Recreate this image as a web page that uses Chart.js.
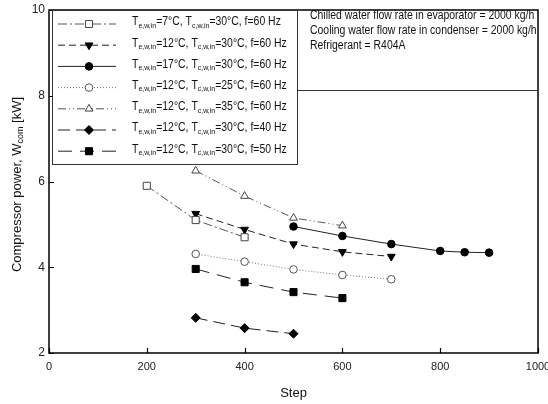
<!DOCTYPE html>
<html>
<head>
<meta charset="utf-8">
<script src="https://cdn.jsdelivr.net/npm/chart.js@4/dist/chart.umd.min.js"></script>
<style>
  html, body { margin: 0; padding: 0; background: #fff; }
  #wrap { width: 548px; height: 404px; }
</style>
</head>
<body>
<div id="wrap"><canvas id="chart" width="548" height="404"></canvas></div>
<script>
// series data
var steps1 = [200, 300, 400];
var power1 = [5.9, 5.1, 4.7];
var steps2 = [300, 400, 500, 600, 700];
var power2 = [5.25, 4.88, 4.54, 4.36, 4.25];
var steps3 = [500, 600, 700, 800, 850, 900];
var power3 = [4.95, 4.73, 4.54, 4.38, 4.35, 4.34];
var steps4 = [300, 400, 500, 600, 700];
var power4 = [4.31, 4.13, 3.95, 3.82, 3.72];
var steps5 = [300, 400, 500, 600];
var power5 = [6.25, 5.66, 5.15, 4.97];
var steps6 = [300, 400, 500];
var power6 = [2.82, 2.58, 2.45];
var steps7 = [300, 400, 500, 600];
var power7 = [3.96, 3.65, 3.42, 3.28];

var evapTemps = [7, 12, 17, 12, 12, 12, 12];
var condTemps = [30, 30, 30, 25, 35, 30, 30];
var freqs = [60, 60, 60, 60, 60, 40, 50];

var xTicks = [0, 200, 400, 600, 800, 1000];
var yTicks = [2, 4, 6, 8, 10];

var infoLines = [
  'Chilled water flow rate in evaporator = 2000 kg/h',
  'Cooling water flow rate in condenser = 2000 kg/h',
  'Refrigerant = R404A'
];

var FONT = '"Liberation Sans", Arial, sans-serif';
var NARROW = 0.87;   // the figure's text is a bit condensed

function pts(xs, ys) {
  var out = [];
  for (var i = 0; i < xs.length; i++) out.push({x: xs[i], y: ys[i]});
  return out;
}

// style per series: line colour, dash, marker
var styles = [
  {line: '#555', dash: [9, 3, 2, 3], shape: 'rect', fill: '#fff', stroke: '#444', r: 5, rot: 0},
  {line: '#222', dash: [7, 4], shape: 'triangle', fill: '#000', stroke: '#000', r: 4.5, rot: 180},
  {line: '#222', dash: [], shape: 'circle', fill: '#000', stroke: '#000', r: 3.8, rot: 0},
  {line: '#777', dash: [1, 2], shape: 'circle', fill: '#fff', stroke: '#555', r: 3.8, rot: 0},
  {line: '#555', dash: [8, 3, 1, 3, 1, 3], shape: 'triangle', fill: '#fff', stroke: '#444', r: 4.5, rot: 0},
  {line: '#222', dash: [12, 6], shape: 'rectRot', fill: '#000', stroke: '#000', r: 4.5, rot: 0},
  {line: '#222', dash: [14, 8], shape: 'rect', fill: '#000', stroke: '#000', r: 5, rot: 0}
];

var allSteps = [steps1, steps2, steps3, steps4, steps5, steps6, steps7];
var allPower = [power1, power2, power3, power4, power5, power6, power7];

var datasets = [];
for (var i = 0; i < 7; i++) {
  var s = styles[i];
  datasets.push({
    data: pts(allSteps[i], allPower[i]),
    borderColor: s.line,
    borderWidth: 1,
    borderDash: s.dash,
    pointStyle: s.shape,
    pointRotation: s.rot,
    pointRadius: s.r,
    pointBackgroundColor: s.fill,
    pointBorderColor: s.stroke,
    pointBorderWidth: 1,
    showLine: true,
    tension: 0
  });
}

function drawMarker(ctx, s, x, y) {
  ctx.save();
  ctx.setLineDash([]);
  ctx.fillStyle = s.fill;
  ctx.strokeStyle = s.stroke;
  ctx.lineWidth = 1;
  ctx.beginPath();
  var r = s.r;
  if (s.shape === 'circle') {
    ctx.arc(x, y, r, 0, Math.PI * 2);
  } else if (s.shape === 'rect') {
    var h = r * Math.SQRT1_2;
    ctx.rect(x - h, y - h, 2 * h, 2 * h);
  } else if (s.shape === 'rectRot') {
    ctx.moveTo(x, y - r); ctx.lineTo(x + r, y); ctx.lineTo(x, y + r); ctx.lineTo(x - r, y); ctx.closePath();
  } else if (s.shape === 'triangle') {
    var d = s.rot === 180 ? -1 : 1;
    ctx.moveTo(x, y - d * r);
    ctx.lineTo(x + r * 0.866, y + d * r * 0.5);
    ctx.lineTo(x - r * 0.866, y + d * r * 0.5);
    ctx.closePath();
  }
  ctx.fill();
  ctx.stroke();
  ctx.restore();
}

// text with subscript runs: parts = [[text, isSub], ...]
function drawRich(ctx, parts, x, y, size) {
  var cx = x;
  for (var i = 0; i < parts.length; i++) {
    var sub = parts[i][1];
    ctx.font = (sub ? Math.round(size * 0.66) : size) + 'px ' + FONT;
    ctx.fillText(parts[i][0], cx, sub ? y + size * 0.3 : y);
    cx += ctx.measureText(parts[i][0]).width;
  }
  return cx - x;
}
function richWidth(ctx, parts, size) {
  var w = 0;
  for (var i = 0; i < parts.length; i++) {
    ctx.font = (parts[i][1] ? Math.round(size * 0.66) : size) + 'px ' + FONT;
    w += ctx.measureText(parts[i][0]).width;
  }
  return w;
}

var decorPlugin = {
  id: 'decor',
  afterDraw: function(chart) {
    var ctx = chart.ctx;
    var a = chart.chartArea;
    var xs = chart.scales.x, ys = chart.scales.y;
    ctx.save();
    ctx.setLineDash([]);
    ctx.strokeStyle = '#000';
    // frame
    ctx.lineWidth = 1.5;
    ctx.strokeRect(a.left, a.top, a.right - a.left, a.bottom - a.top);
    // inward ticks
    ctx.lineWidth = 1.2;
    ctx.beginPath();
    xTicks.forEach(function(v) {
      var px = Math.round(xs.getPixelForValue(v)) + 0.5;
      ctx.moveTo(px, a.bottom); ctx.lineTo(px, a.bottom - 5);
    });
    yTicks.forEach(function(v) {
      var py = Math.round(ys.getPixelForValue(v)) + 0.5;
      ctx.moveTo(a.left, py); ctx.lineTo(a.left + 5, py);
    });
    ctx.stroke();

    // legend box
    var lx = a.left + 3, ly = a.top, lw = 297 - lx, lh = 164 - a.top;
    ctx.fillStyle = '#fff';
    ctx.fillRect(lx, ly, lw, lh);
    ctx.strokeStyle = '#333';
    ctx.lineWidth = 1;
    ctx.strokeRect(lx + 0.5, ly + 0.5, lw, lh);
    ctx.textBaseline = 'middle';
    for (var i = 0; i < 7; i++) {
      var s = styles[i];
      var cy = ly + 14 + i * 21.2;
      ctx.strokeStyle = s.line;
      ctx.lineWidth = 1;
      ctx.setLineDash(s.dash);
      ctx.beginPath();
      ctx.moveTo(lx + 6, cy); ctx.lineTo(lx + 64, cy);
      ctx.stroke();
      drawMarker(ctx, s, lx + 37, cy);
      ctx.fillStyle = '#111';
      ctx.save();
      ctx.translate(lx + 80, cy - 2);
      ctx.scale(NARROW, 1);
      drawRich(ctx, [
        ['T', false], ['e,w,in', true], ['=' + evapTemps[i] + '\u00b0C, T', false],
        ['c,w,in', true], ['=' + condTemps[i] + '\u00b0C, f=' + freqs[i] + ' Hz', false]
      ], 0, 0, 12);
      ctx.restore();
    }

    // info box
    ctx.setLineDash([]);
    ctx.strokeStyle = '#333';
    ctx.lineWidth = 1;
    ctx.beginPath();
    ctx.moveTo(297.5, a.top); ctx.lineTo(297.5, 90.5); ctx.lineTo(a.right, 90.5);
    ctx.stroke();
    ctx.fillStyle = '#111';
    ctx.font = '12px ' + FONT;
    ctx.textBaseline = 'middle';
    infoLines.forEach(function(t, k) {
      ctx.save();
      ctx.translate(310, 16 + k * 15);
      ctx.scale(NARROW, 1);
      ctx.fillText(t, 0, 0);
      ctx.restore();
    });

    // axis titles
    ctx.fillStyle = '#111';
    ctx.textBaseline = 'middle';
    var xt = [['Step', false]];
    var w = richWidth(ctx, xt, 13);
    drawRich(ctx, xt, (a.left + a.right) / 2 - w / 2, 393, 13);
    var yt = [['Compressor power, W', false], ['com', true], [' [kW]', false]];
    ctx.translate(17, (a.top + a.bottom) / 2 + 3);
    ctx.rotate(-Math.PI / 2);
    w = richWidth(ctx, yt, 13);
    drawRich(ctx, yt, -w / 2, 0, 13);
    ctx.restore();
  }
};

new Chart(document.getElementById('chart'), {
  type: 'scatter',
  data: {datasets: datasets},
  plugins: [decorPlugin],
  options: {
    responsive: false,
    animation: false,
    layout: {padding: {left: 0, right: 10, top: 10, bottom: 0}},
    plugins: {legend: {display: false}, tooltip: {enabled: false}},
    scales: {
      x: {
        type: 'linear', min: 0, max: 1000,
        afterBuildTicks: function(s) { s.ticks = xTicks.map(function(v) { return {value: v}; }); },
        afterFit: function(s) { s.height = 51; s.paddingLeft = 0; s.paddingRight = 0; },
        grid: {display: false, drawTicks: false},
        border: {display: false},
        ticks: {color: '#222', font: {size: 11, family: FONT}, padding: 7, maxRotation: 0,
                callback: function(v) { return String(v); }}
      },
      y: {
        type: 'linear', min: 2, max: 10,
        afterBuildTicks: function(s) { s.ticks = yTicks.map(function(v) { return {value: v}; }); },
        afterFit: function(s) { s.width = 49; s.paddingTop = 0; s.paddingBottom = 0; },
        grid: {display: false, drawTicks: false},
        border: {display: false},
        ticks: {color: '#222', font: {size: 12, family: FONT}, padding: 4,
                callback: function(v) { return String(v); }}
      }
    }
  }
});
</script>
</body>
</html>
